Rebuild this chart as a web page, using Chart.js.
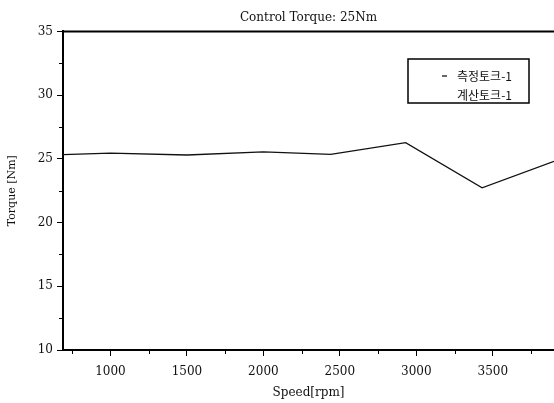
<!DOCTYPE html>
<html>
<head>
<meta charset="utf-8">
<script src="https://cdn.jsdelivr.net/npm/chart.js@4/dist/chart.umd.min.js"></script>
<style>
  html, body { margin:0; padding:0; background:#fff; }
  #wrap { width:554px; height:403px; }
</style>
</head>
<body>
<div id="wrap"><canvas id="torqueChart" width="554" height="403"></canvas></div>
<script>
  //─── data ────────────────────────────────────────────────────────────────
  const speedRpm         = [690, 1000, 1500, 2000, 2440, 2930, 3430, 3900];
  const measuredTorque   = [25.33, 25.45, 25.3, 25.55, 25.35, 26.27, 22.72, 24.8];
  const calculatedTorque = [];   // not visible in the figure
  const seriesLabels     = ['측정토크-1', '계산토크-1'];
  const chartTitle       = 'Control Torque: 25Nm';
  const xRange = [690, 3900];
  const yRange = [10, 35];
  // major + minor tick positions (labels only on majors)
  const xTickValues = [750, 1000, 1250, 1500, 1750, 2000, 2250, 2500, 2750, 3000, 3250, 3500, 3750];
  const yTickValues = [10, 12.5, 15, 17.5, 20, 22.5, 25, 27.5, 30, 32.5, 35];
  const xMajor = 500, yMajor = 5;

  const serif = 'DejaVu Serif';
  const pts = (xs, ys) => xs.map((x, i) => ({ x, y: ys[i] }));

  // minor ticks drawn from the scale itself, plus the top frame line
  const minorTicks = {
    id: 'minorTicks',
    afterDraw(chart) {
      const { ctx, chartArea: a, scales: { x, y } } = chart;
      ctx.save();
      ctx.strokeStyle = '#000';
      ctx.lineWidth = 1;
      x.ticks.filter(t => t.value % xMajor !== 0).forEach(t => {
        const px = Math.round(x.getPixelForValue(t.value)) + 0.5;
        ctx.beginPath(); ctx.moveTo(px, a.bottom); ctx.lineTo(px, a.bottom + 4); ctx.stroke();
      });
      y.ticks.filter(t => t.value % yMajor !== 0).forEach(t => {
        const py = Math.round(y.getPixelForValue(t.value)) + 0.5;
        ctx.beginPath(); ctx.moveTo(a.left - 4, py); ctx.lineTo(a.left, py); ctx.stroke();
      });
      ctx.lineWidth = 2;
      ctx.beginPath(); ctx.moveTo(a.left, a.top); ctx.lineTo(a.right, a.top); ctx.stroke();
      ctx.restore();
    }
  };

  // boxed legend inside plot, upper right
  const boxLegend = {
    id: 'boxLegend',
    afterDraw(chart) {
      const ctx = chart.ctx;
      const bx = 408, by = 59, bw = 121, bh = 44;
      ctx.save();
      ctx.strokeStyle = '#000';
      ctx.lineWidth = 1.5;
      ctx.fillStyle = '#fff';
      ctx.fillRect(bx, by, bw, bh);
      ctx.strokeRect(bx, by, bw, bh);
      ctx.fillStyle = '#111';
      ctx.font = '12px "Noto Sans CJK KR"';
      ctx.textBaseline = 'middle';
      chart.data.datasets.forEach((ds, i) => {
        const ty = by + 17 + i * 19;
        if (ds.sample) {
          ctx.lineWidth = 1.2;
          ctx.beginPath(); ctx.moveTo(442, ty); ctx.lineTo(447, ty); ctx.stroke();
        }
        ctx.fillText(ds.label, 457, ty);
      });
      ctx.restore();
    }
  };

  new Chart(document.getElementById('torqueChart'), {
    type: 'line',
    data: {
      datasets: [
        { label: seriesLabels[0], sample: true, data: pts(speedRpm, measuredTorque),
          borderColor: '#111', borderWidth: 1.3, pointRadius: 0, tension: 0, fill: false },
        { label: seriesLabels[1], sample: false, data: pts(speedRpm, calculatedTorque),
          borderColor: '#111', borderWidth: 1.3, pointRadius: 0, fill: false }
      ]
    },
    options: {
      responsive: false,
      animation: false,
      devicePixelRatio: 1,
      layout: { padding: 0 },
      plugins: {
        legend: { display: false },
        tooltip: { enabled: false },
        title: {
          display: true, text: chartTitle, fullSize: false, color: '#111',
          font: { family: serif, size: 12, weight: 'normal' },
          padding: { top: 11, bottom: 6 }
        }
      },
      scales: {
        x: {
          type: 'linear', min: xRange[0], max: xRange[1],
          afterBuildTicks: s => { s.ticks = xTickValues.map(v => ({ value: v })); },
          afterFit: s => { s.height = 53; },
          border: { display: true, color: '#000', width: 2 },
          grid: { drawOnChartArea: false, drawTicks: true, tickLength: 6,
                  tickColor: c => (c.tick && c.tick.value % xMajor === 0) ? '#000' : 'rgba(0,0,0,0)' },
          ticks: { autoSkip: false, maxRotation: 0, color: '#111', padding: 9,
                   font: { family: serif, size: 12 },
                   callback: v => v % xMajor === 0 ? String(v) : '' },
          title: { display: true, text: 'Speed[rpm]', color: '#111',
                   font: { family: serif, size: 12 }, padding: { top: 0, bottom: 3 } }
        },
        y: {
          min: yRange[0], max: yRange[1],
          afterBuildTicks: s => { s.ticks = yTickValues.map(v => ({ value: v })); },
          afterFit: s => { s.width = 63; },
          border: { display: true, color: '#000', width: 2 },
          grid: { drawOnChartArea: false, drawTicks: true, tickLength: 6,
                  tickColor: c => (c.tick && c.tick.value % yMajor === 0) ? '#000' : 'rgba(0,0,0,0)' },
          ticks: { autoSkip: false, color: '#111', padding: 4,
                   font: { family: serif, size: 12 },
                   callback: v => v % yMajor === 0 ? String(v) : '' },
          title: { display: true, text: 'Torque [Nm]', color: '#111',
                   font: { family: serif, size: 11 }, padding: { top: 6, bottom: 0 } }
        }
      }
    },
    plugins: [minorTicks, boxLegend]
  });
</script>
</body>
</html>
